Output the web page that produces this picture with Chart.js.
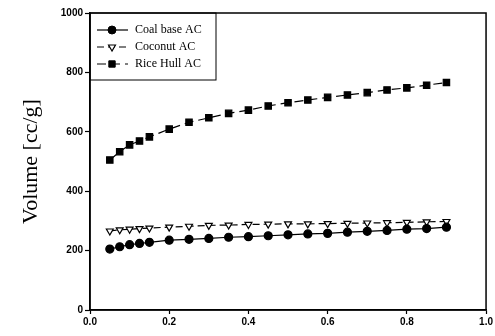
<!DOCTYPE html>
<html>
<head>
<meta charset="utf-8">
<script src="https://cdn.jsdelivr.net/npm/chart.js@4/dist/chart.umd.min.js"></script>
<style>
  html, body { margin: 0; padding: 0; background: #fff; }
  #wrap { width: 495px; height: 336px; }
</style>
</head>
<body>
<div id="wrap"><canvas id="chart"></canvas></div>
<script>
// Relative pressure values shared by all three series
const pressures = [0.05, 0.075, 0.1, 0.125, 0.15, 0.2, 0.25, 0.3, 0.35, 0.4, 0.45, 0.5, 0.55, 0.6, 0.65, 0.7, 0.75, 0.8, 0.85, 0.9];
const coalBase = [205, 213, 220, 224, 228, 235, 238, 241, 245, 247, 250, 253, 256, 258, 262, 265, 268, 272, 274, 279];
const coconut = [266, 270, 272, 274, 276, 279, 282, 285, 286, 288, 289, 290, 290, 291, 292, 293, 294, 295, 297, 298];
const riceHull = [505, 533, 556, 569, 583, 609, 632, 647, 662, 673, 687, 698, 707, 716, 724, 732, 741, 748, 757, 766];
const xTicks = [0, 0.2, 0.4, 0.6, 0.8, 1.0];
const yTicks = [0, 200, 400, 600, 800, 1000];

function toPoints(ys) {
  return pressures.map((x, i) => ({ x: x, y: ys[i] }));
}

// box round the plot area
const frame = {
  id: 'frame',
  afterDraw(chart) {
    const a = chart.chartArea;
    const ctx = chart.ctx;
    ctx.save();
    ctx.strokeStyle = '#000';
    ctx.lineWidth = 1.5;
    ctx.strokeRect(a.left, a.top, a.right - a.left, a.bottom - a.top);
    ctx.restore();
  }
};

// legend in the upper left corner, with line + marker samples
const boxLegend = {
  id: 'boxLegend',
  afterDraw(chart) {
    const a = chart.chartArea;
    const ctx = chart.ctx;
    ctx.save();
    ctx.strokeStyle = '#000';
    ctx.lineWidth = 1;
    ctx.strokeRect(a.left, a.top, 126, 67);
    chart.data.datasets.forEach((ds, i) => {
      const y = a.top + 17 + i * 17;
      ctx.beginPath();
      ctx.setLineDash(ds.borderDash || []);
      ctx.lineWidth = 1.2;
      ctx.strokeStyle = '#000';
      ctx.moveTo(a.left + 7, y);
      ctx.lineTo(a.left + 38, y);
      ctx.stroke();
      ctx.setLineDash([]);
      ctx.fillStyle = ds.pointBackgroundColor;
      ctx.strokeStyle = ds.pointBorderColor;
      ctx.lineWidth = ds.pointBorderWidth || 1;
      Chart.helpers.drawPoint(ctx, {
        pointStyle: ds.pointStyle,
        radius: ds.pointRadius,
        rotation: ds.pointRotation || 0,
        borderWidth: ds.pointBorderWidth || 1
      }, a.left + 22, y);
      ctx.fillStyle = '#000';
      ctx.font = '12px "Liberation Serif"';
      ctx.textBaseline = 'middle';
      ctx.fillText(ds.label, a.left + 45, y);
    });
    ctx.restore();
  }
};

const datasets = [
  {
    label: 'Coal base AC',
    data: toPoints(coalBase),
    borderColor: '#000',
    borderWidth: 1.2,
    pointStyle: 'circle',
    pointRadius: 4,
    pointBackgroundColor: '#000',
    pointBorderColor: '#000'
  },
  {
    label: 'Coconut AC',
    data: toPoints(coconut),
    borderColor: '#000',
    borderWidth: 1.2,
    borderDash: [7, 4],
    pointStyle: 'triangle',
    pointRotation: 180,
    pointRadius: 4,
    pointBorderWidth: 1.2,
    pointBackgroundColor: '#fff',
    pointBorderColor: '#000'
  },
  {
    label: 'Rice Hull AC',
    data: toPoints(riceHull),
    borderColor: '#000',
    borderWidth: 1.2,
    borderDash: [9, 5],
    pointStyle: 'rect',
    pointRadius: 4.5,
    pointBackgroundColor: '#000',
    pointBorderColor: '#000'
  }
];

const tickFont = { family: '"Liberation Sans"', size: 10, weight: 'bold' };

new Chart(document.getElementById('chart'), {
  type: 'line',
  data: { datasets: datasets },
  options: {
    responsive: true,
    maintainAspectRatio: false,
    animation: false,
    layout: { padding: { top: 13, right: 8, left: 0, bottom: 0 } },
    plugins: {
      legend: { display: false },
      tooltip: { enabled: false }
    },
    scales: {
      x: {
        type: 'linear',
        min: 0,
        max: 1,
        afterBuildTicks: (axis) => { axis.ticks = xTicks.map(v => ({ value: v })); },
        afterFit: (axis) => { axis.height = 26; },
        grid: { drawOnChartArea: false, color: '#000', tickLength: 4, tickWidth: 1.2 },
        border: { color: '#000', width: 1.5 },
        ticks: {
          color: '#000',
          font: tickFont,
          padding: 2,
          maxRotation: 0,
          callback: (v) => v.toFixed(1)
        }
      },
      y: {
        min: 0,
        max: 1000,
        afterBuildTicks: (axis) => { axis.ticks = yTicks.map(v => ({ value: v })); },
        afterFit: (axis) => { axis.width = 90; },
        grid: { drawOnChartArea: false, color: '#000', tickLength: 5, tickWidth: 1.2 },
        border: { color: '#000', width: 1.5 },
        title: {
          display: true,
          text: 'Volume [cc/g]',
          color: '#000',
          font: { family: '"Liberation Serif"', size: 22 },
          padding: { top: 18, bottom: 10 }
        },
        ticks: {
          color: '#000',
          font: tickFont,
          padding: 2,
          callback: (v) => String(v)
        }
      }
    }
  },
  plugins: [frame, boxLegend]
});
</script>
</body>
</html>
